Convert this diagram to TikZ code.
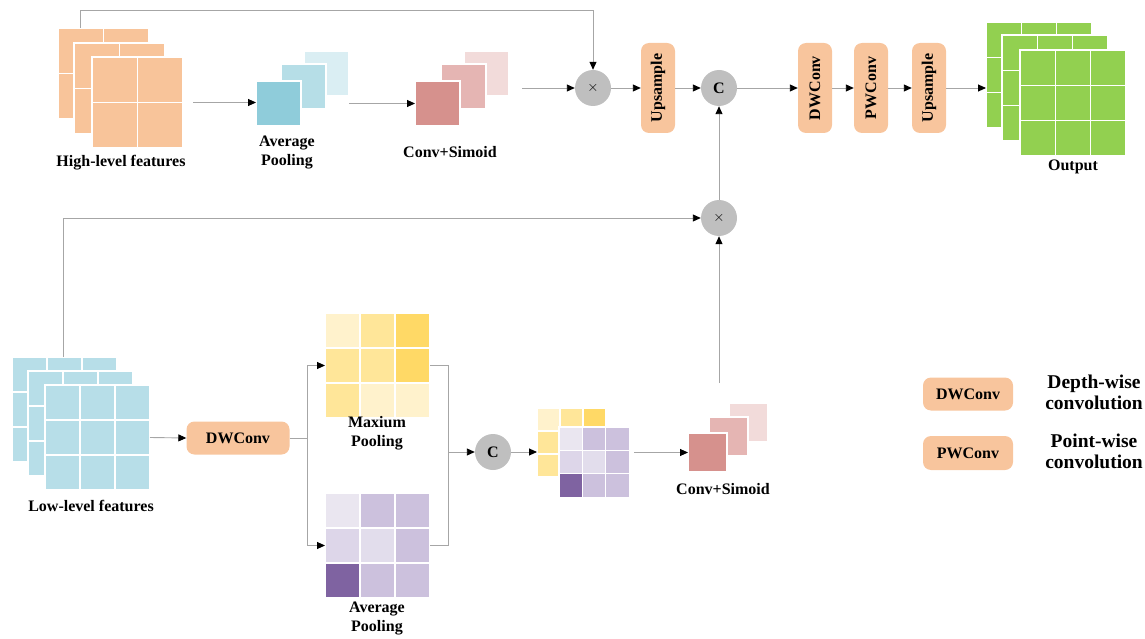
\documentclass[tikz,border=0pt]{standalone}
\usepackage{fontspec}
\setmainfont{Liberation Serif}
\usetikzlibrary{arrows.meta}
\definecolor{peach}{HTML}{F8C59D}
\definecolor{hifeat}{HTML}{F8C49A}
\definecolor{lofeat}{HTML}{B7DEE8}
\definecolor{outfeat}{HTML}{92D050}
\definecolor{apA}{HTML}{8FCCDA}
\definecolor{apB}{HTML}{B6DEE7}
\definecolor{apC}{HTML}{DAEEF3}
\definecolor{csA}{HTML}{D6918D}
\definecolor{csB}{HTML}{E5B5B3}
\definecolor{csC}{HTML}{F2DBDA}
\definecolor{yA}{HTML}{FFF2CC}
\definecolor{yB}{HTML}{FFE699}
\definecolor{yC}{HTML}{FFD966}
\definecolor{pA}{HTML}{EAE6F0}
\definecolor{pB}{HTML}{CCC1DD}
\definecolor{pC}{HTML}{DDD6E9}
\definecolor{pD}{HTML}{E2DDEC}
\definecolor{pE}{HTML}{7F63A1}
\definecolor{opgray}{HTML}{BFBFBF}
\definecolor{linegray}{HTML}{A6A6A6}

\newcommand\fmap[6]{%
  \fill[#6,draw=white,line width=1.2pt] (#2,#3) rectangle ++(#4,#4);
  \foreach \t in {1,...,#5}{
    \draw[white,line width=1.2pt] (#2+\t*#4/#5,#3) -- ++(0,#4);
    \draw[white,line width=1.2pt] (#2,#3+\t*#4/#5) -- ++(#4,0);}
  \node[fm=#4,anchor=north west] (#1) at (#2,#3) {};}
\newcommand\cellgrid[5]{%
  \foreach \c [count=\i from 0] in {#5}{
    \pgfmathtruncatemacro\cc{mod(\i,3)}\pgfmathtruncatemacro\rr{\i/3}
    \fill[\c,draw=white,line width=1.2pt] (#2+\cc*#4,#3+\rr*#4) rectangle ++(#4,#4);}
  \node[fm=3*#4,anchor=north west] (#1) at (#2,#3) {};}

\begin{document}
\begin{tikzpicture}[x=1pt,y=-1pt,
  every node/.style={font=\bfseries\fontsize{16}{19}\selectfont},
  fm/.style={inner sep=0,outer sep=0,minimum size=#1},
  blk/.style={fill=peach,rounded corners=8pt,inner sep=0},
  op/.style={circle,fill=opgray,minimum size=36,inner sep=0},
  ln/.style={draw=linegray,line width=0.9pt},
  arr/.style={ln,-{Triangle[length=8pt,width=7pt,black]}}]
  \useasboundingbox (0,0) rectangle (1145,639);

  \fmap{hfb}{58}{28}{91}{2}{hifeat}
  \fmap{hfm}{74}{43}{91}{2}{hifeat}
  \fmap{hf}{92}{57}{91}{2}{hifeat}
  \node (hflab) at (121,163) {High-level features};

  \fmap{apb}{304}{51}{45}{1}{apC}
  \fmap{apm}{281}{64}{45}{1}{apB}
  \fmap{ap}{256}{81}{45}{1}{apA}
  \node[align=center] (aplab) at (287,152) {Average\\Pooling};

  \fmap{csb}{464}{51}{45}{1}{csC}
  \fmap{csm}{441}{64}{45}{1}{csB}
  \fmap{cs}{415}{81}{45}{1}{csA}
  \node (cslab) at (450,152) {Conv+Simoid};

  \node[op] (mul1) at (593,88) {\fontsize{14}{14}\selectfont$\times$};
  \node[blk,rotate=90,minimum width=90,minimum height=34] (up1) at (658,88) {Upsample};
  \node[op] (cat1) at (719,88) {C};
  \node[blk,rotate=90,minimum width=90,minimum height=34] (dw1) at (815,88) {DWConv};
  \node[blk,rotate=90,minimum width=90,minimum height=34] (pw1) at (871,88) {PWConv};
  \node[blk,rotate=90,minimum width=90,minimum height=34] (up2) at (929,88) {Upsample};

  \fmap{outb}{986}{22}{106}{3}{outfeat}
  \fmap{outm}{1002}{35}{106}{3}{outfeat}
  \fmap{out}{1020}{50}{106}{3}{outfeat}
  \node (outlab) at (1073,167) {Output};

  \node[op] (mul2) at (719,218) {\fontsize{14}{14}\selectfont$\times$};

  \fmap{lfb}{12}{357}{105}{3}{lofeat}
  \fmap{lfm}{28}{371}{105}{3}{lofeat}
  \fmap{lf}{45}{385}{105}{3}{lofeat}
  \node (lflab) at (91,506) {Low-level features};

  \node[blk,minimum width=103,minimum height=33] (dw2) at (238,438) {DWConv};

  \cellgrid{mp}{325}{313}{35}{yA,yB,yC,yB,yB,yC,yB,yA,yA}
  \node[align=center] (mplab) at (377,433) {Maxium\\Pooling};
  \cellgrid{avp}{325}{493}{35}{pA,pB,pB,pC,pD,pB,pE,pB,pB}
  \node[align=center] (avplab) at (377,618) {Average\\Pooling};

  \node[op] (cat2) at (493,452) {C};
  \cellgrid{cgy}{537}{408}{23}{yA,yB,yC,yB,yB,yB,yB,yB,yB}
  \cellgrid{cgp}{559}{427}{23.4}{pA,pB,pB,pC,pD,pB,pE,pB,pB}

  \fmap{cs2b}{729}{403}{39}{1}{csC}
  \fmap{cs2m}{709}{417}{39}{1}{csB}
  \fmap{cs2}{688}{433}{39}{1}{csA}
  \node (cs2lab) at (723,489) {Conv+Simoid};

  \node[blk,minimum width=90,minimum height=33] (lg1) at (968,394) {DWConv};
  \node[blk,minimum width=90,minimum height=34] (lg2) at (968,453) {PWConv};
  \node[font=\bfseries\fontsize{19.5}{21}\selectfont,align=center] (lt1) at (1094,392) {Depth-wise\\convolution};
  \node[font=\bfseries\fontsize{19.5}{21}\selectfont,align=center] (lt2) at (1094,451) {Point-wise\\convolution};

  \coordinate (t1) at (80,28);
  \coordinate (t2) at (63,357);
  \coordinate (c2) at (719,383);
  \draw[arr] (t1) -- ++(0,-18) -| (mul1);
  \draw[arr,shorten <=10pt] (hf.east) -- (hf.east -| ap.west);
  \draw[arr] (ap.east -| apb.east) -- (cs.west);
  \draw[arr,shorten <=13pt] (mul1 -| csb.east) -- (mul1);
  \draw[arr] (mul1) -- (up1);
  \draw[arr] (up1) -- (cat1);
  \draw[arr] (cat1) -- (dw1);
  \draw[arr] (dw1) -- (pw1);
  \draw[arr] (pw1) -- (up2);
  \draw[arr] (up2) -- (up2 -| outb.west);
  \draw[arr] (mul2) -- (cat1);
  \draw[arr] (c2) -- (mul2);
  \draw[arr] (t2) |- (mul2);
  \draw[arr] (lf.east) -- (dw2.west);
  \draw[ln] (dw2.east) -- ++(18,0) coordinate (sp);
  \draw[arr] (sp) |- (mp.west);
  \draw[arr] (sp) |- (avp.west);
  \draw[ln] (mp.east) -- ++(18,0) coordinate (jn) -- (jn |- avp.east) -- (avp.east);
  \draw[arr] (jn |- cat2) -- (cat2);
  \draw[arr] (cat2) -- (cat2 -| cgy.west);
  \draw[arr,shorten <=5pt] (cgp.east |- cs2) -- (cs2.west);
\end{tikzpicture}
\end{document}
